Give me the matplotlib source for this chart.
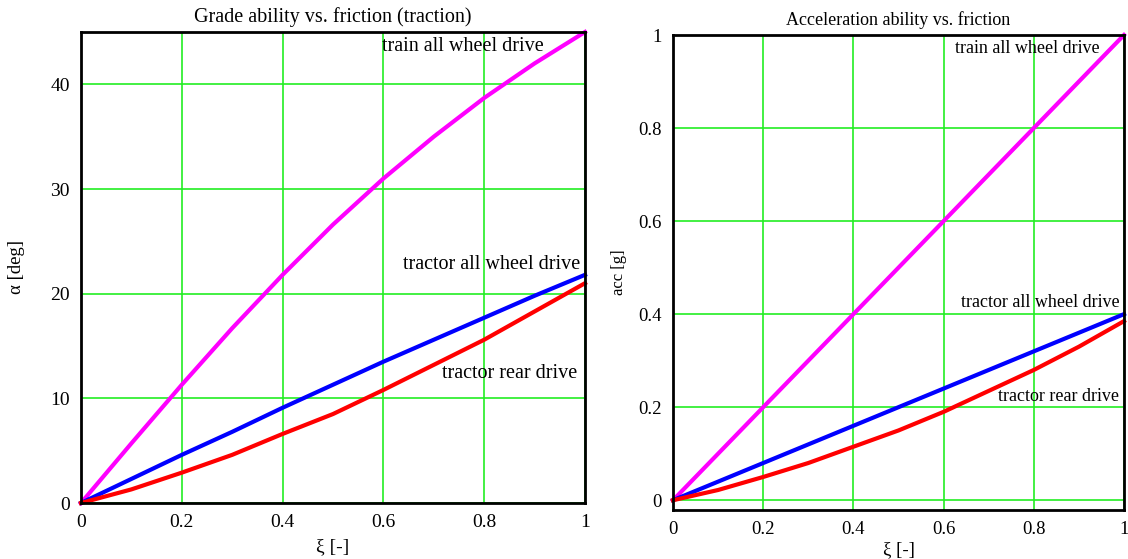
import matplotlib
matplotlib.use('Agg')
from matplotlib import pyplot as plt
import numpy as np

plt.rcParams['font.family'] = ['Liberation Serif', 'DejaVu Serif']

# friction coefficient xi [-]
xi = [0.0, 0.1, 0.2, 0.3, 0.4, 0.5, 0.6, 0.7, 0.8, 0.9, 1.0]

# grade ability alpha [deg]
grade_train = [0.0, 5.7, 11.3, 16.7, 21.8, 26.6, 31.0, 35.0, 38.7, 42.0, 45.0]
grade_tractor_awd = [0.0, 2.3, 4.6, 6.8, 9.1, 11.3, 13.5, 15.6, 17.7, 19.8, 21.8]
grade_tractor_rwd = [0.0, 1.3, 2.9, 4.6, 6.6, 8.5, 10.8, 13.2, 15.6, 18.3, 21.0]

# acceleration ability acc [g]
acc_train = [0.0, 0.1, 0.2, 0.3, 0.4, 0.5, 0.6, 0.7, 0.8, 0.9, 1.0]
acc_tractor_awd = [0.0, 0.04, 0.08, 0.12, 0.16, 0.2, 0.24, 0.28, 0.32, 0.36, 0.4]
acc_tractor_rwd = [0.0, 0.022, 0.05, 0.08, 0.115, 0.15, 0.19, 0.235, 0.28, 0.33, 0.385]

x_ticks = [0, 0.2, 0.4, 0.6, 0.8, 1]
x_ticklabels = ['0', '0.2', '0.4', '0.6', '0.8', '1']

grid_col = '#22ee22'

fig = plt.figure(figsize=(11.28, 5.59), dpi=100)
ax1 = fig.add_axes([81 / 1128, 56 / 559, 504 / 1128, 471 / 559])
ax2 = fig.add_axes([673 / 1128, 49 / 559, 451 / 1128, 475 / 559])


def style_axes(ax, fs, xpad):
    ax.set_xlim(0, 1)
    ax.set_xticks(x_ticks)
    ax.set_xticklabels(x_ticklabels)
    ax.grid(True, color=grid_col, linewidth=1.2)
    ax.set_axisbelow(True)
    ax.tick_params(length=0, labelsize=fs, pad=8)
    for s in ax.spines.values():
        s.set_linewidth(2)
        s.set_color('black')
    ax.set_xlabel('ξ [-]', fontsize=fs, labelpad=xpad)


# left: grade ability
fs1 = 14.5
ax1.plot(xi, grade_train, color='#ff00ff', lw=3, clip_on=False)
ax1.plot(xi, grade_tractor_awd, color='#0000ff', lw=3, clip_on=False)
ax1.plot(xi, grade_tractor_rwd, color='#ff0000', lw=3, clip_on=False)
style_axes(ax1, 14, 5)
ax1.set_ylim(0, 45)
ax1.set_yticks([0, 10, 20, 30, 40])
ax1.set_title('Grade ability vs. friction (traction)', fontsize=fs1, pad=7)
ax1.set_ylabel('α [deg]', fontsize=13.5, labelpad=18)
ax1.text(0.918, 43.6, 'train all wheel drive', ha='right', va='center', fontsize=fs1)
ax1.text(0.99, 22.8, 'tractor all wheel drive', ha='right', va='center', fontsize=fs1)
ax1.text(0.985, 12.4, 'tractor rear drive', ha='right', va='center', fontsize=fs1)

# right: acceleration ability
fs2 = 13
ax2.plot(xi, acc_train, color='#ff00ff', lw=3, clip_on=False)
ax2.plot(xi, acc_tractor_awd, color='#0000ff', lw=3, clip_on=False)
ax2.plot(xi, acc_tractor_rwd, color='#ff0000', lw=3, clip_on=False)
style_axes(ax2, 13.5, 2)
ax2.set_ylim(-0.021, 1.0)
ax2.set_yticks([0, 0.2, 0.4, 0.6, 0.8, 1])
ax2.set_yticklabels(['0', '0.2', '0.4', '0.6', '0.8', '1'])
ax2.set_title('Acceleration ability vs. friction', fontsize=fs2, pad=7)
ax2.set_ylabel('acc [g]', fontsize=12, labelpad=8)
ax2.text(0.947, 0.972, 'train all wheel drive', ha='right', va='center', fontsize=fs2)
ax2.text(0.99, 0.425, 'tractor all wheel drive', ha='right', va='center', fontsize=fs2)
ax2.text(0.99, 0.222, 'tractor rear drive', ha='right', va='center', fontsize=fs2)

fig.savefig('out.png', dpi=100, facecolor='white')
